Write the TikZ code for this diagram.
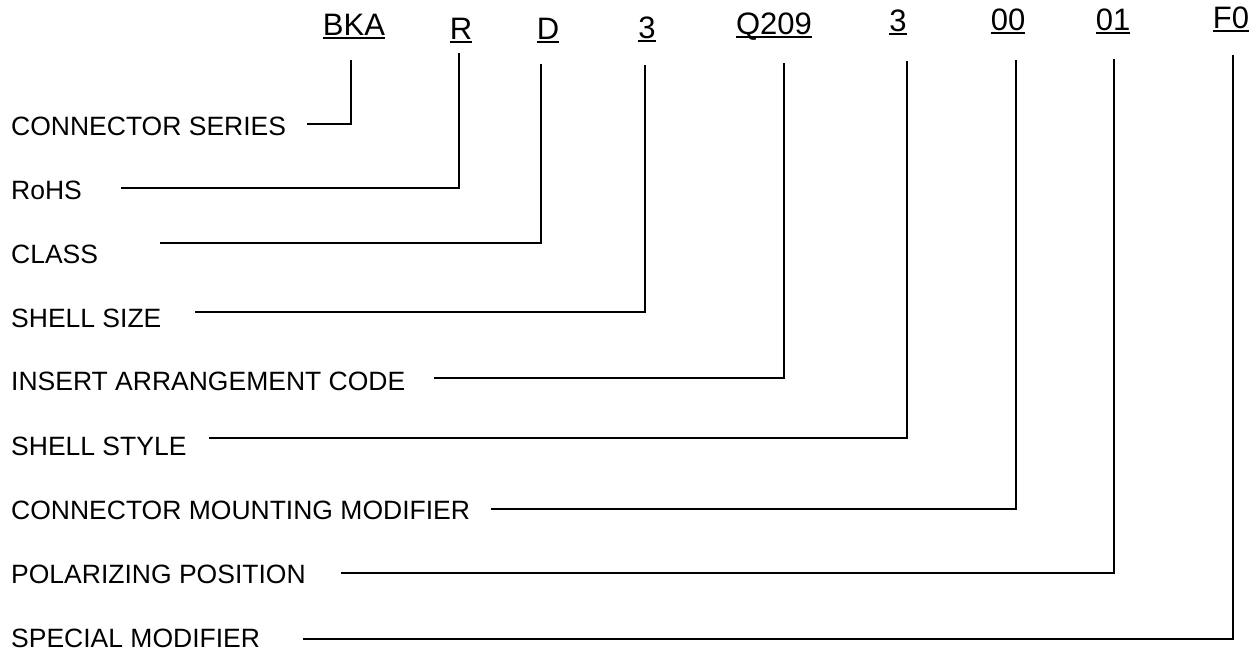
\documentclass[tikz,border=0pt]{standalone}
\usepackage{fontspec}
\setmainfont{Liberation Sans}
\usetikzlibrary{calc}

\begin{document}
\begin{tikzpicture}[x = 1pt, y = -1pt,
		code/.style = {anchor = base, inner sep = 0pt, font = \fontsize{31}{36}\selectfont},
		field/.style = {anchor = base west, inner sep = 0pt, font = \fontsize{26.5}{30}\selectfont},
		leader/.style = {line width = 2.2pt, line join = miter},
		uline/.style = {line width = 1.4pt}]
	\useasboundingbox (0,0) rectangle (1256,651);
	% part number
	\node[code] (BKA) at (354,35) {BKA};
	\node[code] (R) at (461,39) {R};
	\node[code] (D) at (548,39) {D};
	\node[code] (S) at (647,38) {3};
	\node[code] (Q) at (774,34) {Q209};
	\node[code] (T) at (898,31) {3};
	\node[code] (M) at (1008,30) {00};
	\node[code] (P) at (1113,30) {01};
	\node[code] (F) at (1231,28) {F0};
	\foreach \c in {BKA, R, D, S, Q, T, M, P, F}
		\draw[uline] ([yshift = -3pt] \c.base west) -- ([yshift = -3pt] \c.base east);
	% fields
	\node[field] (series) at (11,135) {CONNECTOR SERIES};
	\node[field] (rohs) at (11,199) {RoHS};
	\node[field] (class) at (11,263) {CLASS};
	\node[field] (size) at (11,327) {SHELL SIZE};
	\node[field] (insert) at (11,390) {INSERT ARRANGEMENT CODE};
	\node[field] (style) at (11,455) {SHELL STYLE};
	\node[field] (mount) at (11,519) {CONNECTOR MOUNTING MODIFIER};
	\node[field] (polar) at (11,583) {POLARIZING POSITION};
	\node[field] (special) at (11,647) {SPECIAL MODIFIER};
	% leader ends
	\coordinate (s1) at (307,124);	\coordinate (t1) at (351,60);
	\coordinate (s2) at (121,188);	\coordinate (t2) at (459,53);
	\coordinate (s3) at (160,243);	\coordinate (t3) at (541,64);
	\coordinate (s4) at (195,312);	\coordinate (t4) at (645,65);
	\coordinate (s5) at (434,378);	\coordinate (t5) at (784,63);
	\coordinate (s6) at (209,438);	\coordinate (t6) at (907,61);
	\coordinate (s7) at (491,509);	\coordinate (t7) at (1016,60);
	\coordinate (s8) at (341,573);	\coordinate (t8) at (1114,59);
	\coordinate (s9) at (303,639);	\coordinate (t9) at (1233,55);
	\foreach \i in {1,...,9}
		\draw[leader] (s\i) -| (t\i);
\end{tikzpicture}
\end{document}
